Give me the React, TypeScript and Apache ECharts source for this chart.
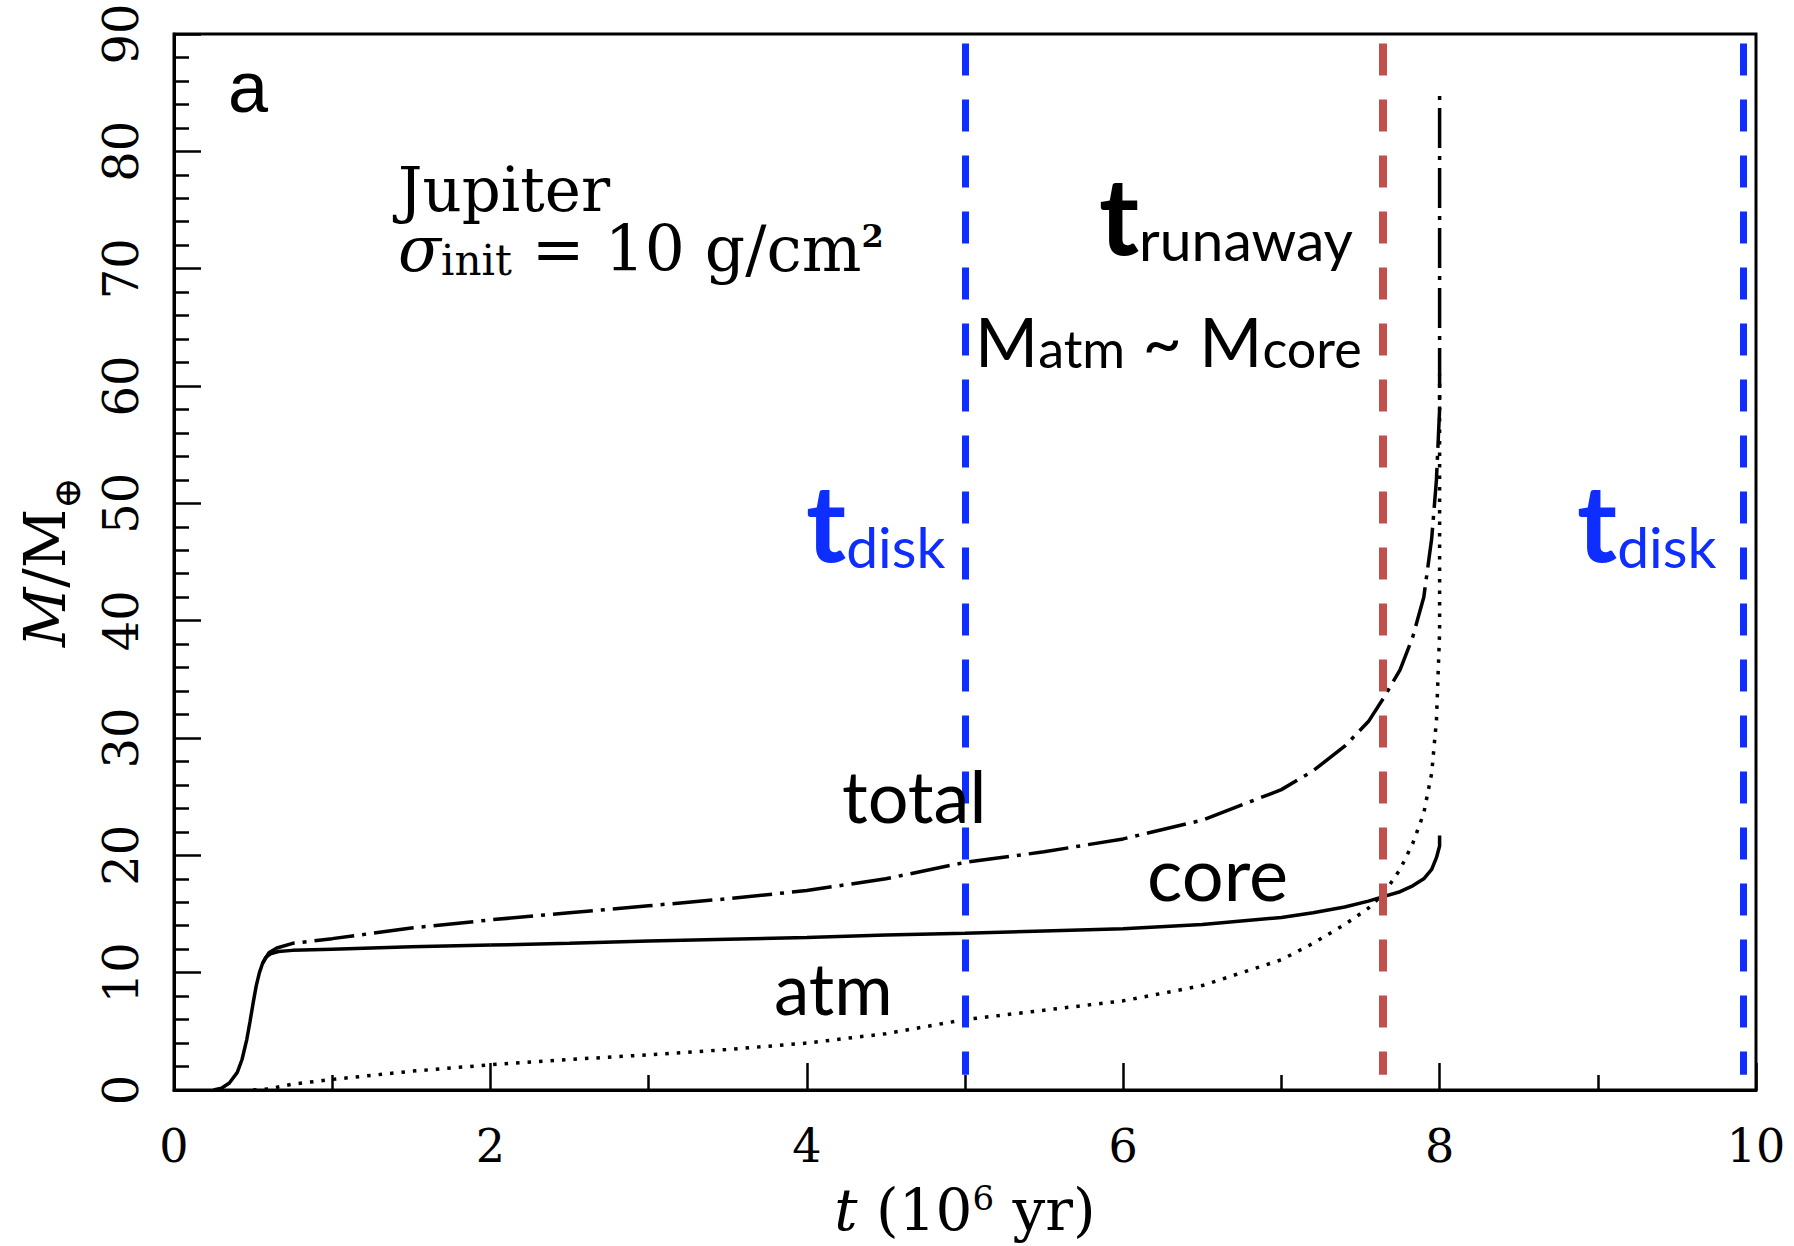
import React, { useEffect, useRef } from 'react';
import * as echarts from 'echarts';

// ---- data (time in 10^6 yr, mass in Earth masses) ----
const coreT = [0.25, 0.3, 0.35, 0.4, 0.43, 0.46, 0.48, 0.5, 0.52, 0.54, 0.56, 0.58, 0.61, 0.66, 0.75, 1.0, 1.5, 2.0, 2.5, 3.0, 3.5, 4.0, 4.5, 5.0, 5.5, 6.0, 6.5, 7.0, 7.2, 7.4, 7.55, 7.65, 7.75, 7.83, 7.9, 7.95, 7.98, 8.0, 8.0];
const coreM = [0, 0.15, 0.6, 1.5, 2.6, 4.3, 5.8, 7.4, 8.9, 10.0, 10.8, 11.3, 11.6, 11.8, 11.9, 12.0, 12.2, 12.35, 12.5, 12.7, 12.85, 13.0, 13.2, 13.35, 13.55, 13.75, 14.1, 14.7, 15.1, 15.6, 16.1, 16.5, 16.9, 17.4, 18.0, 18.8, 19.8, 20.8, 21.7];

const totalT = [0.56, 0.6, 0.65, 0.75, 1.0, 1.5, 2.0, 2.5, 3.0, 3.5, 4.0, 4.5, 5.0, 5.5, 6.0, 6.5, 7.0, 7.2, 7.4, 7.55, 7.65, 7.75, 7.83, 7.9, 7.95, 7.98, 8.0, 8.0];
const totalM = [10.8, 11.7, 12.1, 12.5, 12.9, 13.8, 14.5, 15.1, 15.7, 16.3, 17.0, 18.0, 19.4, 20.3, 21.4, 23.0, 25.6, 27.2, 29.3, 31.4, 33.5, 35.8, 38.6, 42.0, 47.0, 52.0, 58.0, 85.0];

const atmT = [0.5, 0.6, 0.75, 1.0, 1.5, 2.0, 2.5, 3.0, 3.5, 4.0, 4.5, 5.0, 5.5, 6.0, 6.5, 7.0, 7.2, 7.4, 7.55, 7.65, 7.75, 7.83, 7.9, 7.95, 7.98, 8.0, 8.0];
const atmM = [0, 0.1, 0.5, 0.9, 1.6, 2.15, 2.6, 3.0, 3.45, 4.0, 4.8, 6.0, 6.8, 7.6, 8.9, 11.1, 12.5, 14.1, 15.5, 16.8, 18.8, 21.0, 23.6, 27.0, 31.5, 39.0, 61.0];

const diskTimes = [5.0, 9.92];
const runawayTime = 7.64;
const markTop = 89.2;
const markBottom = 1.3;

const xMin = 0, xMax = 10, xStep = 2;
const yMin = 0, yMax = 90, yStep = 10;

const SERIF = '"DejaVu Serif"';
const SANS = 'Lato';
const BLUE = '#0d2eff';
const RED = '#c0504d';

function pairs(t: number[], m: number[]) {
  return t.map((v, i) => [v, m[i]]);
}

export default function App() {
  const ref = useRef<HTMLDivElement>(null);
  useEffect(() => {
    const chart = echarts.init(ref.current!, null, { renderer: 'svg' });
    const vLine = (x: number, color: string, width: number) => [
      { coord: [x, markTop], lineStyle: { color, width, type: [32, 24], cap: 'butt' } },
      { coord: [x, markBottom] },
    ];
    const subScript = (color: string) => ({
      t: { fontFamily: SANS, fontSize: 108, fontWeight: 'bold', lineHeight: 108, verticalAlign: 'bottom', fill: color },
      s: { fontFamily: SANS, fontSize: 57, lineHeight: 48, verticalAlign: 'bottom', fill: color },
    });
    const option: any = {
      animation: false,
      backgroundColor: '#fff',
      grid: {
        left: 174, right: 38, top: 34, bottom: 156,
        show: true, borderColor: '#000', borderWidth: 3,
        outerBoundsMode: 'none',
      },
      xAxis: {
        type: 'value', min: xMin, max: xMax, interval: xStep,
        axisLine: { lineStyle: { color: '#000', width: 3 } },
        axisTick: { inside: true, length: 27, lineStyle: { color: '#000', width: 2.5 } },
        minorTick: { show: true, splitNumber: 2, length: 15, lineStyle: { color: '#000', width: 2.5 } },
        splitLine: { show: false },
        axisLabel: { color: '#000', fontFamily: SERIF, fontSize: 46, margin: 33 },
        name: '{i|t} {n|(10}{sup|6}{n| yr)}',
        nameLocation: 'middle',
        nameGap: 91,
        nameTextStyle: {
          color: '#000', fontFamily: SERIF, fontSize: 58,
          rich: {
            i: { fontFamily: SERIF, fontSize: 58, fontStyle: 'italic', lineHeight: 58, verticalAlign: 'bottom', color: '#000' },
            n: { fontFamily: SERIF, fontSize: 58, lineHeight: 58, verticalAlign: 'bottom', color: '#000' },
            sup: { fontFamily: SERIF, fontSize: 34, lineHeight: 34, verticalAlign: 'top', color: '#000' },
          },
        },
      },
      yAxis: {
        type: 'value', min: yMin, max: yMax, interval: yStep,
        axisLine: { lineStyle: { color: '#000', width: 3 } },
        axisTick: { inside: true, length: 27, lineStyle: { color: '#000', width: 2.5 } },
        minorTick: { show: true, splitNumber: 5, length: 15, lineStyle: { color: '#000', width: 2.5 } },
        splitLine: { show: false },
        axisLabel: { color: '#000', fontFamily: SERIF, fontSize: 48, margin: 29, rotate: 90 },
        name: '{i|M}{n|/M}{sub|⊕}',
        nameLocation: 'middle',
        nameRotate: 90,
        nameGap: 88,
        nameTextStyle: {
          color: '#000', fontFamily: SERIF, fontSize: 58,
          rich: {
            i: { fontFamily: SERIF, fontSize: 58, fontStyle: 'italic', lineHeight: 58, verticalAlign: 'top', color: '#000' },
            n: { fontFamily: SERIF, fontSize: 58, lineHeight: 58, verticalAlign: 'top', color: '#000' },
            sub: { fontFamily: SERIF, fontSize: 38, lineHeight: 70, verticalAlign: 'bottom', color: '#000' },
          },
        },
      },
      series: [
        {
          name: 'core', type: 'line', data: pairs(coreT, coreM), showSymbol: false, symbol: 'none',
          lineStyle: { color: '#000', width: 3.5 }, z: 2,
        },
        {
          name: 'total', type: 'line', data: pairs(totalT, totalM), showSymbol: false, symbol: 'none',
          lineStyle: { color: '#000', width: 3.5, type: [40, 8, 4, 8] }, z: 2,
        },
        {
          name: 'atm', type: 'line', data: pairs(atmT, atmM), showSymbol: false, symbol: 'none',
          lineStyle: { color: '#000', width: 3.5, type: [3.5, 8] }, z: 2,
          markLine: {
            silent: true, symbol: ['none', 'none'], label: { show: false }, z: 5,
            data: [
              vLine(diskTimes[0], BLUE, 7),
              vLine(runawayTime, RED, 8),
              vLine(diskTimes[1], BLUE, 7),
            ],
          },
        },
      ],
      graphic: [
        { type: 'text', x: 228, y: 51, z: 10, style: { text: 'a', fontFamily: '"Liberation Sans"', fontSize: 72, fill: '#000' } },
        {
          type: 'text', x: 398, y: 148, z: 10,
          style: {
            text: '{j|Jupiter}\n{i|σ}{sub|init}{n| = 10 g/cm}{sup|2}', fill: '#000',
            rich: {
              j: { fontFamily: SERIF, fontSize: 61, lineHeight: 72, verticalAlign: 'bottom', fill: '#000' },
              i: { fontFamily: SERIF, fontSize: 63, fontStyle: 'italic', lineHeight: 61, verticalAlign: 'bottom', fill: '#000' },
              sub: { fontFamily: SERIF, fontSize: 42, lineHeight: 24, verticalAlign: 'bottom', fill: '#000' },
              n: { fontFamily: SERIF, fontSize: 63, lineHeight: 61, verticalAlign: 'bottom', fill: '#000' },
              sup: { fontFamily: SERIF, fontSize: 32, fontWeight: 'bold', lineHeight: 38, verticalAlign: 'top', fill: '#000' },
            },
          },
        },
        {
          type: 'text', x: 1353, y: 159, z: 10,
          style: { text: '{t|t}{s|runaway}', align: 'right', fill: '#000', rich: subScript('#000') },
        },
        {
          type: 'text', x: 975, y: 306, z: 10,
          style: {
            text: '{M|M}{s|atm}{M| ~ M}{s|core}', fill: '#000',
            rich: {
              M: { fontFamily: SANS, fontSize: 68, lineHeight: 68, verticalAlign: 'bottom', fill: '#000' },
              s: { fontFamily: SANS, fontSize: 52, lineHeight: 44, verticalAlign: 'bottom', fill: '#000' },
            },
          },
        },
        ...[806, 1577].map((x) => ({
          type: 'text', x, y: 466, z: 10,
          style: { text: '{t|t}{s|disk}', fill: BLUE, rich: subScript(BLUE) },
        })),
        { type: 'text', x: 842, y: 759, z: 10, style: { text: 'total', fontFamily: SANS, fontSize: 72, fill: '#000' } },
        { type: 'text', x: 1147, y: 835, z: 10, style: { text: 'core', fontFamily: SANS, fontSize: 74, fill: '#000' } },
        { type: 'text', x: 774, y: 952, z: 10, style: { text: 'atm', fontFamily: SANS, fontSize: 71, fill: '#000' } },
      ],
    };
    chart.setOption(option);
    return () => chart.dispose();
  }, []);
  return (
    <div
      ref={ref}
      style={{ position: 'fixed', left: 0, top: 0, width: 1794, height: 1246, background: '#fff' }}
    />
  );
}
